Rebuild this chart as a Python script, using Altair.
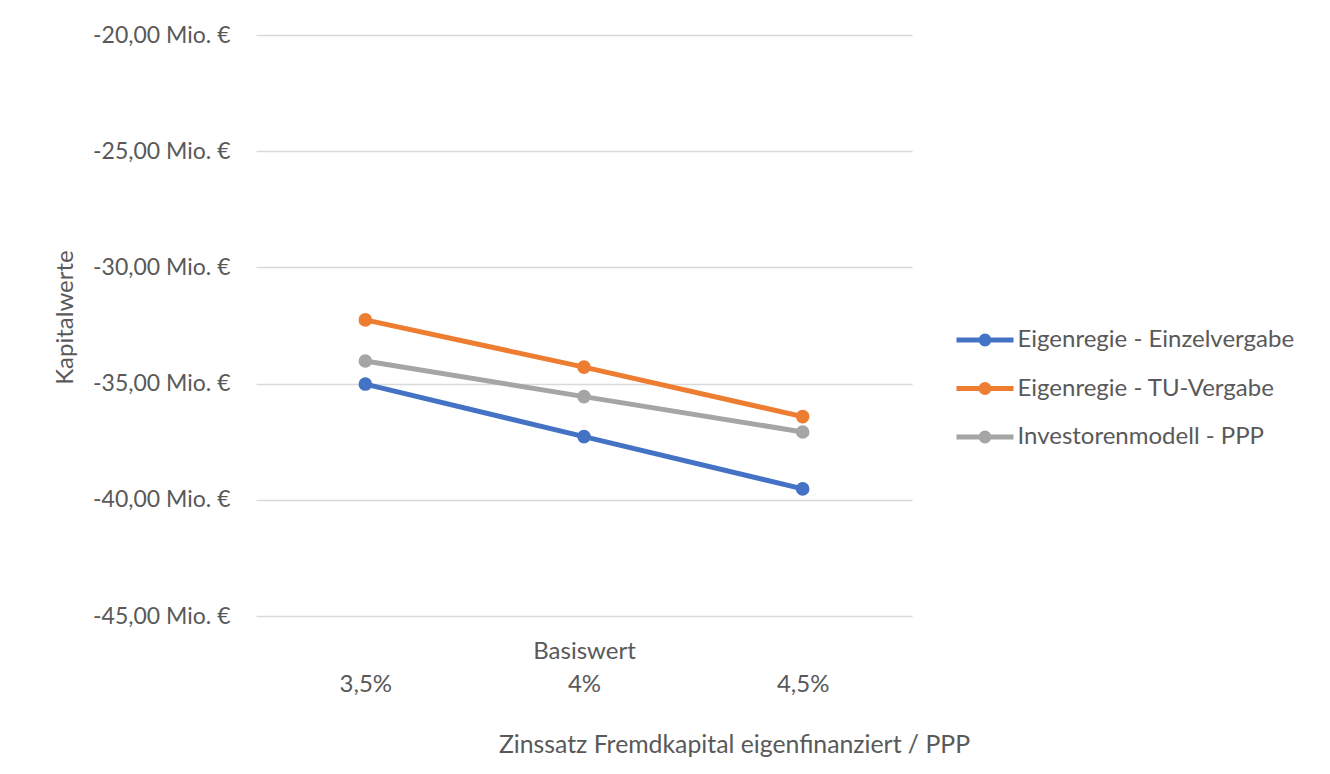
import altair as alt
import pandas as pd

categories = ["3,5%", "4%", "4,5%"]
series_names = ["Eigenregie - Einzelvergabe", "Eigenregie - TU-Vergabe", "Investorenmodell - PPP"]
einzelvergabe = [-35.02, -37.28, -39.53]
tu_vergabe = [-32.26, -34.29, -36.42]
ppp = [-34.03, -35.56, -37.08]
colors = ["#4472C4", "#ED7D31", "#A5A5A5"]
y_ticks = [-45, -40, -35, -30, -25, -20]

rows = []
for name, vals in zip(series_names, [einzelvergabe, tu_vergabe, ppp]):
    for c, v in zip(categories, vals):
        rows.append({"Zins": c, "Serie": name, "Wert": v})
df = pd.DataFrame(rows)

FONT = "Lato"
TXT = "#595959"

legend_path = ("M -5.7 0 L 5.7 0 "
               "M 0.3 0 A 0.3 0.3 0 1 1 -0.3 0 A 0.3 0.3 0 1 1 0.3 0 "
               "M 0.8 0 A 0.8 0.8 0 1 1 -0.8 0 A 0.8 0.8 0 1 1 0.8 0")

color = alt.Color(
    "Serie:N",
    sort=series_names,
    scale=alt.Scale(domain=series_names, range=colors),
    legend=alt.Legend(
        title=None,
        orient="none",
        legendX=717,
        legendY=293,
        symbolType=legend_path,
        symbolSize=100,
        symbolStrokeWidth=5,
        labelOffset=20.5,
        rowPadding=20.5,
        labelFont=FONT,
        labelFontSize=24,
        labelColor=TXT,
        labelLimit=400,
    ),
)

x = alt.X(
    "Zins:N",
    sort=categories,
    scale=alt.Scale(type="point", padding=0.5),
    axis=alt.Axis(
        title="Zinssatz Fremdkapital eigenfinanziert / PPP",
        titleFont=FONT,
        titleFontSize=24.8,
        titleFontWeight="normal",
        titleColor=TXT,
        titleX=478,
        titleY=129,
        titleBaseline="middle",
        titleAnchor="middle",
        labelAngle=0,
        labelFont=FONT,
        labelFontSize=24,
        labelColor=TXT,
        labelPadding=23.5,
        labelLineHeight=33,
        labelBaseline="top",
        labelExpr="datum.value == '4%' ? ['Basiswert', datum.value] : ['', datum.value]",
        domain=False,
        ticks=False,
        grid=False,
    ),
)

y = alt.Y(
    "Wert:Q",
    scale=alt.Scale(domain=[-45, -20], nice=False, zero=False),
    axis=alt.Axis(
        title="Kapitalwerte",
        titleFont=FONT,
        titleFontSize=24,
        titleFontWeight="normal",
        titleColor=TXT,
        titleX=-191,
        titleY=282,
        titleBaseline="middle",
        titleAngle=-90,
        values=y_ticks,
        labelExpr="'-' + replace(format(abs(datum.value), '.2f'), '.', ',') + ' Mio. €'",
        labelFont=FONT,
        labelFontSize=23,
        labelColor=TXT,
        labelPadding=26,
        domain=False,
        ticks=False,
        grid=True,
        gridColor="#D9D9D9",
        gridWidth=1.5,
    ),
)

base = alt.Chart(df)
lines = base.mark_line(strokeWidth=5).encode(x=x, y=y, color=color)
points = base.mark_point(filled=True, size=185, opacity=1).encode(x=x, y=y, color=color)

chart = (
    alt.layer(lines, points)
    .properties(
        width=656,
        height=581,
        padding={"left": 248, "top": 27, "right": 410, "bottom": 150},
        autosize=alt.AutoSizeParams(type="none"),
        background="white",
    )
    .configure_view(stroke=None)
)

chart.save("out.html", embed_options={"renderer": "svg", "actions": False})
